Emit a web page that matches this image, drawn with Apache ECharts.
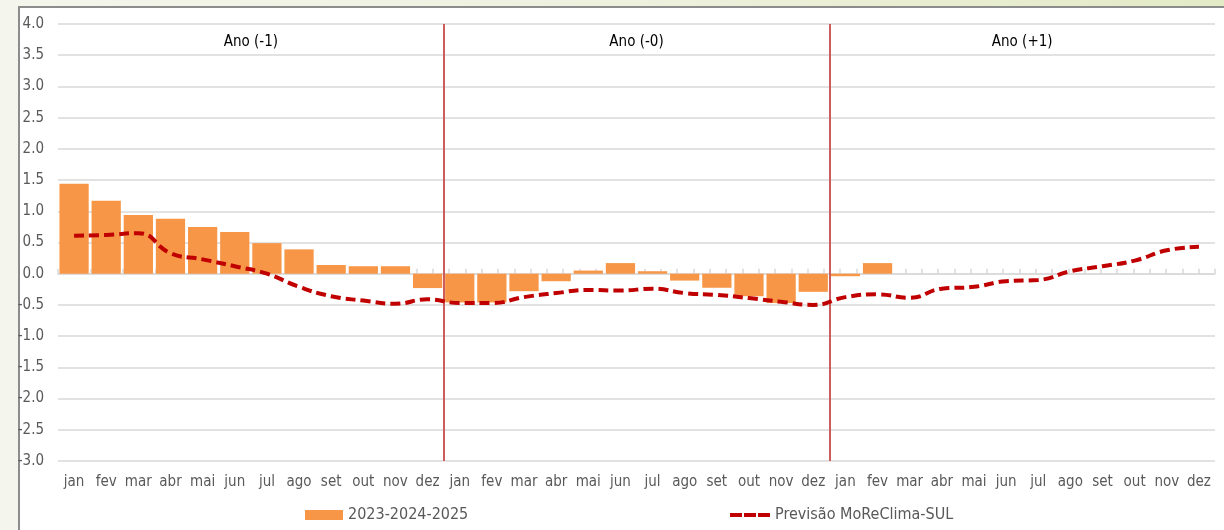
<!DOCTYPE html>
<html>
<head>
<meta charset="utf-8">
<script src="https://cdn.jsdelivr.net/npm/echarts@6/dist/echarts.min.js"></script>
<style>
  html, body { margin: 0; padding: 0; width: 1224px; height: 530px; overflow: hidden;
    background: linear-gradient(90deg, #f4f5ec 0%, #eef1de 50%, #e3eac6 100%); }
  #frame { position: absolute; left: 18px; top: 6px; width: 1206px; height: 524px;
    background: #ffffff; border-left: 2px solid #8c8c8c; border-top: 2px solid #8c8c8c; box-sizing: border-box; }
  #chart { position: absolute; left: 0; top: 0; width: 1224px; height: 530px; }
</style>
</head>
<body>
<div id="frame"></div>
<div id="chart"></div>
<script>
const months = ['jan','fev','mar','abr','mai','jun','jul','ago','set','out','nov','dez'];
const categories = months.concat(months, months);
const yearLabels = ['Ano (-1)', 'Ano (-0)', 'Ano (+1)'];
const yearBounds = [0, 12, 24, 36];
const barName = '2023-2024-2025';
const lineName = 'Previsão MoReClima-SUL';
const barYm1 = [1.44, 1.17, 0.94, 0.88, 0.75, 0.67, 0.49, 0.39, 0.14, 0.12, 0.12, -0.23];
const barY0  = [-0.46, -0.46, -0.28, -0.12, 0.05, 0.17, 0.04, -0.11, -0.225, -0.36, -0.47, -0.29];
const barYp1 = [-0.04, 0.17, null, null, null, null, null, null, null, null, null, null];
const lineYm1 = [0.61, 0.62, 0.65, 0.33, 0.23, 0.12, 0.0, -0.21, -0.36, -0.43, -0.48, -0.41];
const lineY0  = [-0.47, -0.47, -0.375, -0.31, -0.26, -0.27, -0.24, -0.31, -0.34, -0.39, -0.45, -0.50];
const lineYp1 = [-0.375, -0.33, -0.385, -0.24, -0.21, -0.12, -0.10, 0.04, 0.12, 0.21, 0.375, 0.43];
const yTicks = { min: -3, max: 4, interval: 0.5 };

const barData = barYm1.concat(barY0, barYp1);
const lineData = lineYm1.concat(lineY0, lineYp1);
const halfTicks = new Array(categories.length * 2).fill('');

const FONT = "'Liberation Sans Narrow', 'Arial Narrow', 'DejaVu Sans Condensed', 'Liberation Sans', sans-serif";
const chart = echarts.init(document.getElementById('chart'), null, { renderer: 'canvas' });

const yearAreas = yearLabels.map((t, i) => [
  { xAxis: yearBounds[i], name: t },
  { xAxis: yearBounds[i + 1] }
]);
const dividers = yearBounds.slice(1, -1).map(b => ({ xAxis: b }));

chart.setOption({
  backgroundColor: 'transparent',
  animation: false,
  textStyle: { fontFamily: FONT },
  grid: { left: 58, right: 9, top: 24, bottom: 69, containLabel: false },
  legend: [
    { data: [{ name: barName, icon: 'rect' }], left: 305, top: 507, padding: 0, itemWidth: 38, itemHeight: 10, itemGap: 5,
      textStyle: { fontFamily: FONT, fontSize: 16, color: '#595959' } },
    { data: [{ name: lineName, icon: 'path://M0,0H12V4H0Z M14,0H26V4H14Z M28,0H40V4H28Z' }],
      left: 730, top: 507, padding: 0, itemWidth: 40, itemHeight: 4, itemGap: 5,
      textStyle: { fontFamily: FONT, fontSize: 16, color: '#595959' } }
  ],
  xAxis: [
    { type: 'category', data: categories, position: 'bottom',
      axisLine: { show: false, onZero: false }, axisTick: { show: false },
      axisLabel: { interval: 0, color: '#595959', fontSize: 15, fontFamily: FONT, margin: 14 } },
    { type: 'category', data: halfTicks, position: 'bottom', boundaryGap: false,
      axisLine: { show: true, onZero: true, lineStyle: { color: '#d9d9d9', width: 1.5 } },
      axisTick: { show: true, interval: 0, inside: true, length: 5, lineStyle: { color: '#d9d9d9', width: 1.5 } },
      axisLabel: { show: false }, splitLine: { show: false } },
    { type: 'value', min: 0, max: 36, show: false, position: 'top' }
  ],
  yAxis: {
    type: 'value', min: yTicks.min, max: yTicks.max, interval: yTicks.interval,
    axisLine: { show: false }, axisTick: { show: false },
    axisLabel: { color: '#595959', fontSize: 15, fontFamily: FONT, margin: 14,
      formatter: v => v.toFixed(1) },
    splitLine: { lineStyle: { color: '#d9d9d9', width: 1.5 } }
  },
  series: [
    {
      name: barName, type: 'bar', xAxisIndex: 0, data: barData,
      barCategoryGap: '9%',
      itemStyle: { color: '#F79646' }
    },
    {
      name: lineName, type: 'line', xAxisIndex: 0, data: lineData,
      smooth: 0.5, symbol: 'none', z: 5,
      lineStyle: { color: '#C00000', width: 4, type: [10, 5] },
      itemStyle: { color: '#C00000' }
    },
    {
      name: 'divisores', type: 'scatter', xAxisIndex: 2, data: [], silent: true,
      markArea: {
        silent: true,
        itemStyle: { color: 'rgba(0,0,0,0)', borderWidth: 0 },
        label: { show: true, position: 'insideTop', distance: 11, color: '#000000', fontSize: 15, fontFamily: FONT },
        data: yearAreas
      },
      markLine: {
        silent: true, symbol: 'none',
        lineStyle: { color: '#CD5C5C', width: 2, type: 'solid', opacity: 1 },
        emphasis: { disabled: true },
        label: { show: false },
        data: dividers
      }
    }
  ]
});
</script>
</body>
</html>
